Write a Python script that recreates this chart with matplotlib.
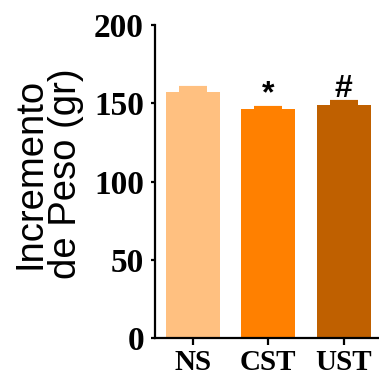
import numpy as np
import matplotlib
matplotlib.use("Agg")
import matplotlib.pyplot as plt

groups = ["NS", "CST", "UST"]
means = [157.4, 146.1, 148.6]
sems = [2.3, 1.1, 2.2]
marks = ["", "*", "#"]
colors = ["#FFC080", "#FF8000", "#BF6000"]

fig = plt.figure(figsize=(3.79, 3.77), dpi=100)
ax = fig.add_axes([0.409, 0.1034, 0.591, 0.8303])

x = np.arange(len(groups))
ax.bar(x, means, width=0.72, color=colors, zorder=2)
for xi, m, s, c in zip(x, means, sems, colors):
    ax.errorbar(xi, m, yerr=[[0], [s]], color=c, capsize=10, capthick=3,
                elinewidth=3, zorder=1)

# significance marks above the error bars
for xi, m, s, t in zip(x, means, sems, marks):
    if t:
        ax.text(xi, m + s + 3.5, t, ha="center", va="baseline",
                fontsize=23, fontweight="bold", family="Liberation Sans")

ax.set_xlim(-0.505, 2.47)
ax.set_ylim(0, 200)
ax.set_yticks([0, 50, 100, 150, 200])
ax.set_xticks(x)
ax.set_xticklabels(groups)

serif = dict(family="Liberation Serif", fontweight="bold")
for lab in ax.get_yticklabels():
    lab.set(fontsize=24, **serif)
for lab in ax.get_xticklabels():
    lab.set(fontsize=21, **serif)

ax.set_ylabel("Incremento\nde Peso (gr)", family="Liberation Sans",
              fontsize=27.5, labelpad=7, linespacing=1.0, y=0.525)

for side in ["top", "right"]:
    ax.spines[side].set_visible(False)
ax.spines["left"].set_linewidth(1.6)
ax.spines["bottom"].set_linewidth(1.6)
ax.tick_params(axis="y", length=3, width=1.6, pad=5)
ax.tick_params(axis="x", length=5, width=1.6, pad=3)

fig.savefig("out.png", dpi=100)
